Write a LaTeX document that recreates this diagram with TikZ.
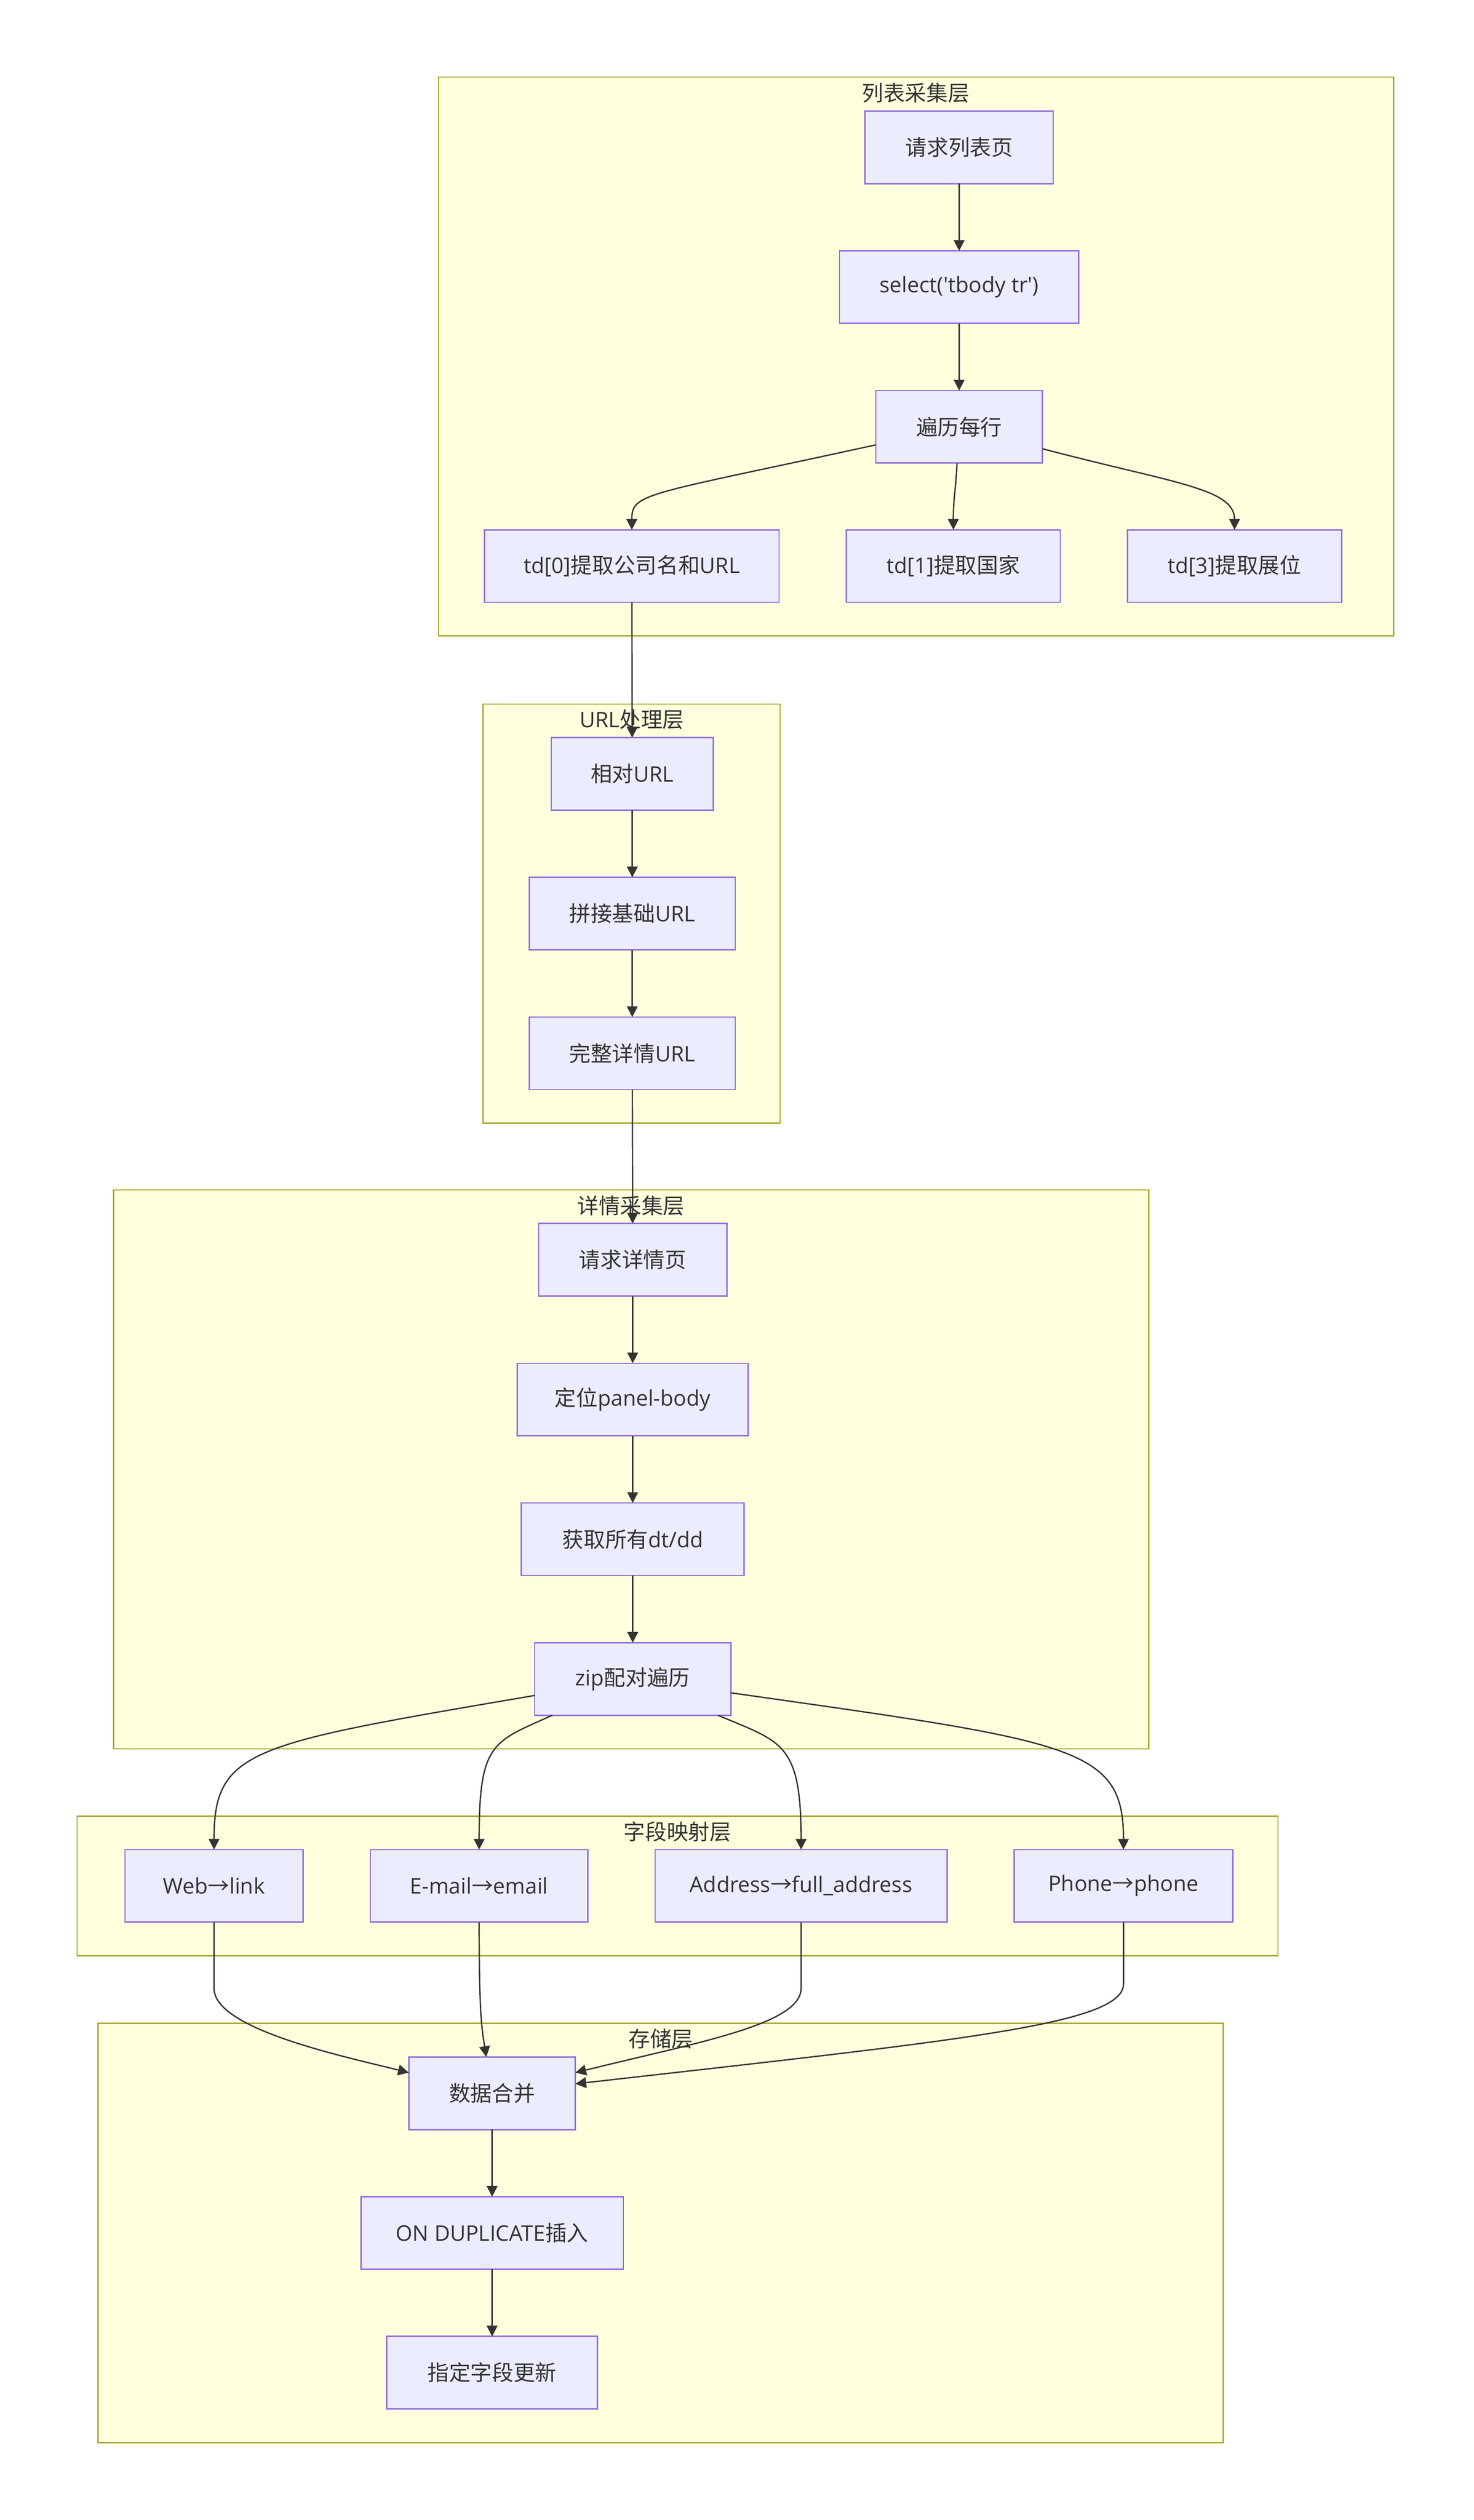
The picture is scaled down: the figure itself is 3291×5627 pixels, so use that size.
\documentclass[tikz,border=0pt]{standalone}
\usepackage{fontspec}
\setmainfont{Open Sans}
\newfontfamily\cjk{Noto Sans CJK SC}
\usetikzlibrary{arrows.meta, positioning}
\definecolor{layerfill}{HTML}{FFFFDE}
\definecolor{layerline}{HTML}{AAAA33}
\definecolor{procfill}{HTML}{ECECFF}
\definecolor{procline}{HTML}{9370DB}
\definecolor{inkgray}{HTML}{333333}

\tikzset{
    layer/.style={draw=layerline, fill=layerfill, line width=3pt},
    layertitle/.style={text=inkgray, inner sep=0pt, font=\fontsize{48}{58}\selectfont},
    proc/.style={draw=procline, fill=procfill, line width=3pt, text=inkgray,
        minimum width=#1, minimum height=162pt, inner sep=0pt, outer sep=0pt,
        font=\fontsize{48}{58}\selectfont},
    flow/.style={draw=inkgray, line width=3pt, -{Triangle[length=24pt, width=24pt]}}
}

\begin{document}
\begin{tikzpicture}[x=1pt, y=-1pt, node distance=150pt]
    \path[fill=white, use as bounding box] (0,0) rectangle (3291,5627);

    % layers
    \draw[layer] (979,172) rectangle (3112,1420);
    \draw[layer] (1079,1572) rectangle (1742,2508);
    \draw[layer] (254,2657) rectangle (2565,3905);
    \draw[layer] (172,4055) rectangle (2854,4367);
    \draw[layer] (219,4518) rectangle (2732,5454);

    \node[layertitle] (listtitle) at (2045,207) {{\cjk 列表采集层}};
    \node[layertitle] (urltitle) at (1411,1607) {URL{\cjk 处理层}};
    \node[layertitle] (detailtitle) at (1409,2692) {{\cjk 详情采集层}};
    \node[layertitle] (maptitle) at (1513,4090) {{\cjk 字段映射层}};
    \node[layertitle] (storetitle) at (1476,4553) {{\cjk 存储层}};

    % list layer
    \node[proc=420pt] (req) at (2142,329) {{\cjk 请求列表页}};
    \node[proc=534pt, below=of req] (sel) {select(\textquotesingle tbody tr\textquotesingle)};
    \node[proc=372pt, below=of sel] (row) {{\cjk 遍历每行}};
    \node[proc=658pt] (td0) at (1411,1264) {td[0]{\cjk 提取公司名和}URL};
    \node[proc=478pt, right=of td0] (td1) {td[1]{\cjk 提取国家}};
    \node[proc=478pt, right=of td1] (td3) {td[3]{\cjk 提取展位}};

    % url layer
    \node[proc=362pt] (rel) at (1412,1728) {{\cjk 相对}URL};
    \node[proc=460pt, below=of rel] (join) {{\cjk 拼接基础}URL};
    \node[proc=460pt, below=of join] (full) {{\cjk 完整详情}URL};

    % detail layer
    \node[proc=420pt] (reqd) at (1413,2813) {{\cjk 请求详情页}};
    \node[proc=516pt, below=of reqd] (panel) {{\cjk 定位}panel-body};
    \node[proc=498pt, below=of panel] (dtdd) {{\cjk 获取所有}dt/dd};
    \node[proc=438pt, below=of dtdd] (zip) {zip{\cjk 配对遍历}};

    % mapping layer
    \node[proc=398pt] (web) at (478,4211) {Web{\cjk →}link};
    \node[proc=486pt, right=of web] (email) {E-mail{\cjk →}email};
    \node[proc=652pt, right=of email] (addr) {Address{\cjk →}full\_address};
    \node[proc=488pt, right=of addr] (phone) {Phone{\cjk →}phone};

    % store layer
    \node[proc=372pt] (merge) at (1099,4674) {{\cjk 数据合并}};
    \node[proc=586pt, below=of merge] (ondup) {ON DUPLICATE{\cjk 插入}};
    \node[proc=470pt, below=of ondup] (spec) {{\cjk 指定字段更新}};

    % connectors
    \draw[flow] (req) -- (sel);
    \draw[flow] (sel) -- (row);
    \draw[flow] (row) .. controls (1440,1106) and (1411,1100) .. (td0.north);
    \draw[flow] (row) .. controls (2133,1110) and (2129,1110) .. (td1.north);
    \draw[flow] (row) .. controls (2620,1079) and (2757,1090) .. (td3.north);
    \draw[flow] (td0) -- (rel);
    \draw[flow] (rel) -- (join);
    \draw[flow] (join) -- (full);
    \draw[flow] (full) -- (reqd);
    \draw[flow] (reqd) -- (panel);
    \draw[flow] (panel) -- (dtdd);
    \draw[flow] (dtdd) -- (zip);
    \draw[flow] (zip) .. controls (560,3894) and (478,3905) .. (web.north);
    \draw[flow] (zip) .. controls (1100,3890) and (1070,3890) .. (email.north);
    \draw[flow] (zip) .. controls (1745,3890) and (1789,3890) .. (addr.north);
    \draw[flow] (zip) .. controls (2400,3889) and (2509,3900) .. (phone.north);
    \draw[flow] (web) -- (478,4440) .. controls (478,4530) and (760,4590) .. (merge);
    \draw[flow] (email) .. controls (1070,4500) and (1076,4530) .. (merge);
    \draw[flow] (addr) -- (1789,4440) .. controls (1789,4520) and (1560,4560) .. (merge);
    \draw[flow] (phone) -- (2509,4430) .. controls (2509,4520) and (2150,4555) .. (merge);
    \draw[flow] (merge) -- (ondup);
    \draw[flow] (ondup) -- (spec);
\end{tikzpicture}
\end{document}
